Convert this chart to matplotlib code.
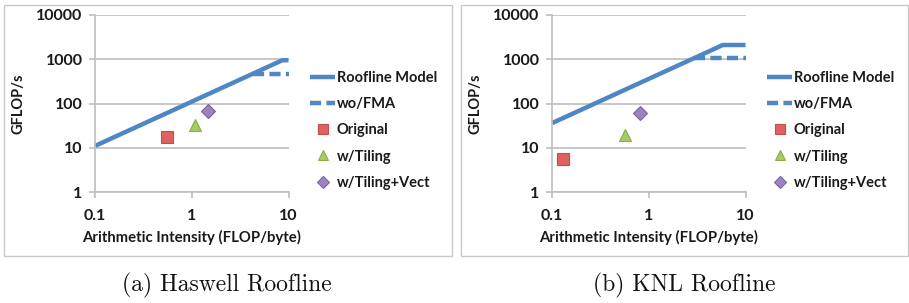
import matplotlib
matplotlib.use("Agg")
import matplotlib.pyplot as plt
from matplotlib.patches import Rectangle
import numpy as np

# Data
haswell_bw = 110.0
haswell_peak = 950.0
haswell_nofma = 475.0
haswell_ai = [0.56, 1.09, 1.47]
haswell_gflops = [17.2, 32.7, 68.7]

knl_bw = 360.0
knl_peak = 2100.0
knl_nofma = 1050.0
knl_ai = [0.13, 0.575, 0.82]
knl_gflops = [5.5, 19.4, 60.0]

point_labels = ["Original", "w/Tiling", "w/Tiling+Vect"]
captions = ["(a) Haswell Roofline", "(b) KNL Roofline"]

LINE = "#4F86C6"
MARKERS = [("s", "#E0615F", "#C0504D"), ("^", "#A7CB62", "#8AAE45"), ("D", "#9B83C0", "#7C63A6")]
TXT = "#1a1a1a"
FONT = "Lato"

fig = plt.figure(figsize=(9.09, 3.03), dpi=100)

# panel borders
for (x0, x1) in [(4, 452), (461, 908)]:
    fig.add_artist(Rectangle((x0 / 909, 1 - 256 / 303), (x1 - x0) / 909, (256 - 5) / 303,
                             transform=fig.transFigure, fill=False, ec="#C8C8C8", lw=1.0))

def panel(left, bw, peak, nofma, ai, gf, caption, capx):
    ax = fig.add_axes([left / 909, 1 - 192 / 303, 193.5 / 909, 177 / 303])
    ax.set_xscale("log")
    ax.set_yscale("log")
    ax.set_xlim(0.1, 10)
    ax.set_ylim(1, 10000)
    ax.grid(True, axis="y", color="#BEBEBE", lw=1.2)
    ax.set_axisbelow(True)
    for s in ["top", "right"]:
        ax.spines[s].set_visible(False)
    for s in ["left", "bottom"]:
        ax.spines[s].set_color("#BEBEBE")
        ax.spines[s].set_linewidth(1.2)
    ax.tick_params(which="minor", length=0)
    ax.tick_params(which="major", length=4, color="#BEBEBE", width=1.2, labelsize=11.5, labelcolor=TXT)
    ax.tick_params(axis="x", pad=8)
    ax.tick_params(axis="y", pad=5)
    ax.set_xticks([0.1, 1, 10])
    ax.set_xticklabels(["0.1", "1", "10"])
    ax.set_yticks([1, 10, 100, 1000, 10000])
    ax.set_yticklabels(["1", "10", "100", "1000", "10000"])
    for lab in ax.get_xticklabels() + ax.get_yticklabels():
        lab.set_fontfamily(FONT)
        lab.set_fontweight("bold")
    # roofline
    knee = peak / bw
    xs = [0.1, knee, 10]
    ys = [bw * 0.1, peak, peak]
    ax.plot(xs, ys, color=LINE, lw=3.2, solid_capstyle="butt", label="Roofline Model", clip_on=False)
    k2 = nofma / bw
    ax.plot([k2, 10], [nofma, nofma], color=LINE, lw=3.2, ls=(0, (2.5, 1.2)), label="wo/FMA",
            dash_capstyle="butt", clip_on=False)
    for (m, fc, ec), x, y, lab in zip(MARKERS, ai, gf, point_labels):
        ax.plot([x], [y], marker=m, ls="none", ms=9 if m != "D" else 7.5, mfc=fc, mec=ec, mew=0.8,
                label=lab, clip_on=False)
    ax.set_ylabel("GFLOP/s", fontfamily=FONT, fontweight="bold", fontsize=10.5, color=TXT, labelpad=8)
    ax.set_xlabel("Arithmetic Intensity (FLOP/byte)", fontfamily=FONT, fontweight="bold",
                  fontsize=10.7, color=TXT, labelpad=5)
    leg = ax.legend(loc="upper left", bbox_to_anchor=(1.11, 0.685), frameon=False, handlelength=1.75,
                    handletextpad=0.1, labelspacing=0.84, markerscale=0.75, borderpad=0, borderaxespad=0,
                    prop={"family": FONT, "weight": "bold", "size": 10.5})
    for t in leg.get_texts():
        t.set_color(TXT)
    fig.text(capx / 909, 1 - 285 / 303, caption, ha="center", va="center",
             fontfamily="cmr10", fontsize=17, color="#111111")
    return ax

panel(95, haswell_bw, haswell_peak, haswell_nofma, haswell_ai, haswell_gflops, captions[0], 227)
panel(552, knl_bw, knl_peak, knl_nofma, knl_ai, knl_gflops, captions[1], 684)

fig.savefig("out.png", dpi=100)
